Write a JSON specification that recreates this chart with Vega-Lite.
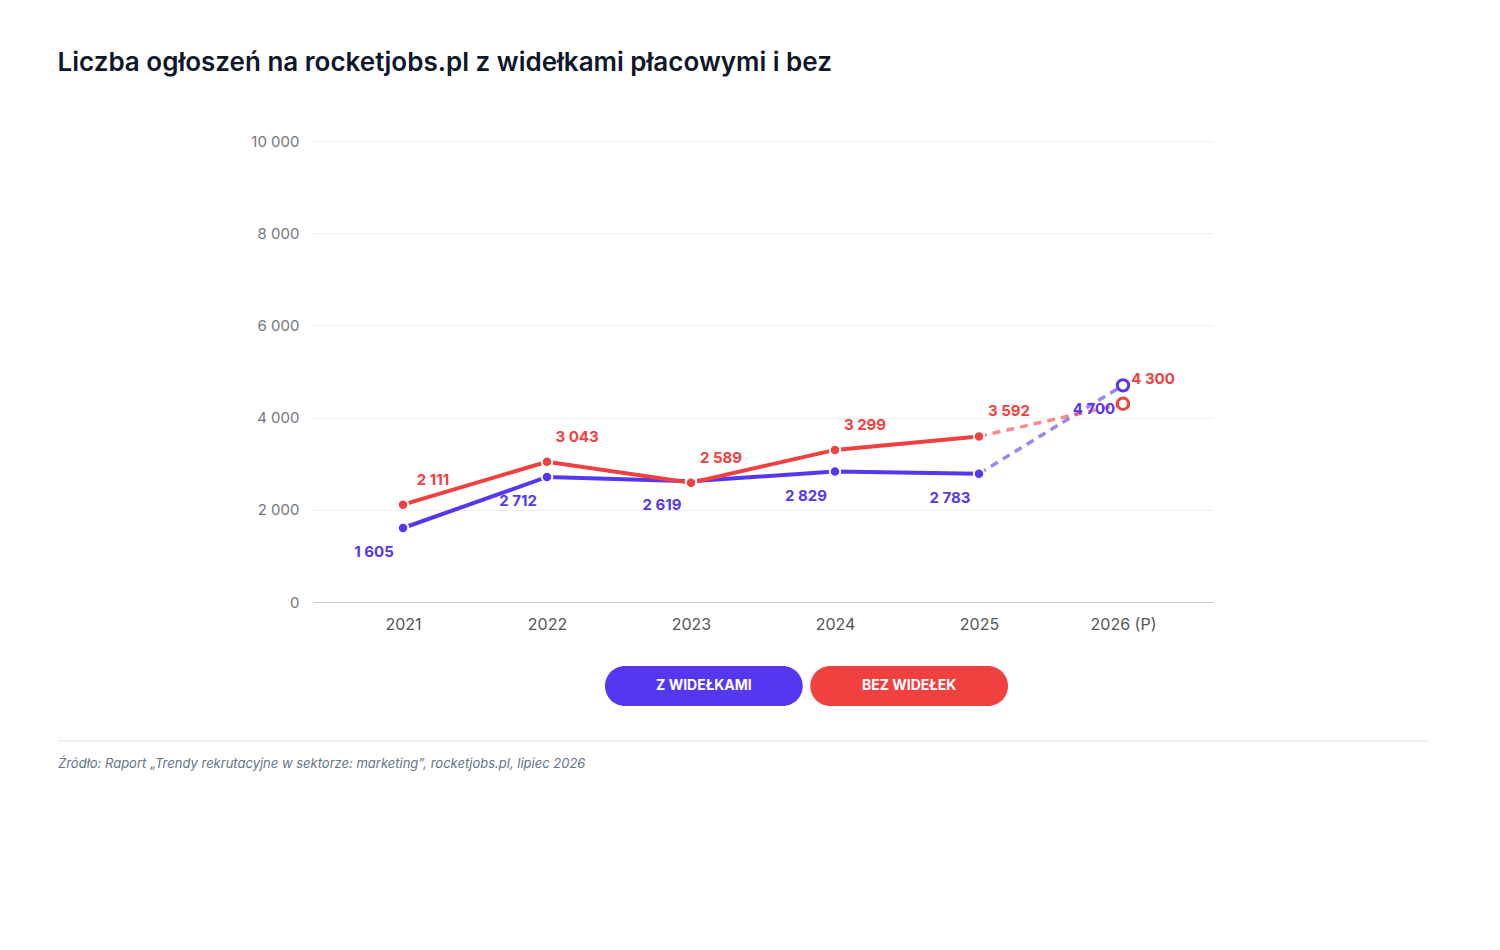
{
  "$schema": "https://vega.github.io/schema/vega-lite/v6.json",
  "background": "white",
  "padding": {"left": 57, "top": 50, "right": 20, "bottom": 20},
  "config": {"view": {"stroke": null}, "font": "Inter"},
  "title": {"text": "Liczba ogłoszeń na rocketjobs.pl z widełkami płacowymi i bez", "anchor": "start", "fontSize": 26, "fontWeight": 600, "color": "#0f172a", "frame": "bounds", "offset": 58},
  "datasets": {
    "series": [
      {"rok": "2021", "typ": "Z widełkami", "liczba": 1605, "prognoza": false},
      {"rok": "2022", "typ": "Z widełkami", "liczba": 2712, "prognoza": false},
      {"rok": "2023", "typ": "Z widełkami", "liczba": 2619, "prognoza": false},
      {"rok": "2024", "typ": "Z widełkami", "liczba": 2829, "prognoza": false},
      {"rok": "2025", "typ": "Z widełkami", "liczba": 2783, "prognoza": false},
      {"rok": "2026 (P)", "typ": "Z widełkami", "liczba": 4700, "prognoza": true},
      {"rok": "2021", "typ": "Bez widełek", "liczba": 2111, "prognoza": false},
      {"rok": "2022", "typ": "Bez widełek", "liczba": 3043, "prognoza": false},
      {"rok": "2023", "typ": "Bez widełek", "liczba": 2589, "prognoza": false},
      {"rok": "2024", "typ": "Bez widełek", "liczba": 3299, "prognoza": false},
      {"rok": "2025", "typ": "Bez widełek", "liczba": 3592, "prognoza": false},
      {"rok": "2026 (P)", "typ": "Bez widełek", "liczba": 4300, "prognoza": true}
    ]
  },
  "spacing": 34,
  "vconcat": [
    {
      "width": 900,
      "height": 461,
      "data": {"name": "series"},
      "transform": [{"calculate": "replace(format(datum.liczba, ',d'), ',', ' ')", "as": "etykieta"}],
      "encoding": {
        "x": {"field": "rok", "type": "ordinal", "scale": {"type": "point", "padding": 0.625},
          "axis": {"title": null, "labelAngle": 0, "labelFontSize": 16, "labelColor": "#555", "labelPadding": 14, "ticks": false, "domainColor": "#ccc"}},
        "y": {"field": "liczba", "type": "quantitative", "scale": {"domain": [0, 10000]},
          "axis": {"title": null, "values": [0, 2000, 4000, 6000, 8000, 10000], "labelOverlap": false, "labelExpr": "replace(format(datum.value, ',d'), ',', ' ')", "labelFontSize": 15, "labelColor": "#777", "labelPadding": 14, "ticks": false, "domain": false, "gridColor": "#eeeeee"}},
        "color": {"field": "typ", "type": "nominal", "scale": {"domain": ["Z widełkami", "Bez widełek"], "range": ["#5438f0", "#f04040"]}, "legend": null}
      },
      "layer": [
        {"transform": [{"filter": "!datum.prognoza"}], "mark": {"type": "line", "strokeWidth": 4}},
        {"transform": [{"filter": "datum.rok == '2025' || datum.rok == '2026 (P)'"}], "mark": {"type": "line", "strokeWidth": 3.5, "strokeDash": [8, 6], "opacity": 0.6}},
        {"transform": [{"filter": "!datum.prognoza"}], "mark": {"type": "point", "filled": true, "size": 110, "opacity": 1, "stroke": "white", "strokeWidth": 2}},
        {"transform": [{"filter": "datum.prognoza"}], "mark": {"type": "point", "filled": false, "size": 130, "strokeWidth": 3, "fill": "white", "opacity": 1}},
        {"transform": [{"filter": "datum.typ == 'Bez widełek'"}], "mark": {"type": "text", "dx": 30, "dy": -25, "fontSize": 15, "fontWeight": "bold"},
          "encoding": {"text": {"field": "etykieta"}}},
        {"transform": [{"filter": "datum.typ == 'Z widełkami'"}], "mark": {"type": "text", "dx": -29, "dy": 24, "fontSize": 15, "fontWeight": "bold"},
          "encoding": {"text": {"field": "etykieta"}}}
      ]
    },
    {
      "width": 900,
      "height": 40,
      "data": {"values": [{"nazwa": "Z WIDEŁKAMI"}, {"nazwa": "BEZ WIDEŁEK"}]},
      "encoding": {
        "x": {"field": "nazwa", "type": "nominal", "sort": null, "scale": {"type": "band", "range": [292, 695], "paddingInner": 0.037, "paddingOuter": 0}, "axis": null},
        "color": {"field": "nazwa", "type": "nominal", "sort": null, "scale": {"domain": ["Z WIDEŁKAMI", "BEZ WIDEŁEK"], "range": ["#5438f0", "#f04040"]}, "legend": null}
      },
      "layer": [
        {"mark": {"type": "bar", "cornerRadius": 20, "height": 40}, "encoding": {"y": {"value": 20}}},
        {"mark": {"type": "text", "fontSize": 14, "fontWeight": "bold", "letterSpacing": 1.5, "baseline": "middle"}, "encoding": {"text": {"field": "nazwa"}, "y": {"value": 20}, "color": {"value": "white"}}}
      ]
    },
    {
      "width": 900,
      "height": 30,
      "data": {"values": [{"tekst": "Źródło: Raport „Trendy rekrutacyjne w sektorze: marketing”, rocketjobs.pl, lipiec 2026"}]},
      "layer": [
        {"mark": {"type": "rule", "color": "#e5e5e5", "strokeWidth": 1}, "encoding": {"x": {"datum": 0, "type": "quantitative", "scale": {"domain": [0, 1385], "range": [-255, 1130]}, "axis": null}, "x2": {"datum": 1385}, "y": {"value": 0}}},
        {"mark": {"type": "text", "align": "left", "fontSize": 13, "fontStyle": "italic", "color": "#64748b"}, "encoding": {"x": {"datum": 0, "type": "quantitative"}, "y": {"value": 23}, "text": {"field": "tekst"}}}
      ]
    }
  ]
}
